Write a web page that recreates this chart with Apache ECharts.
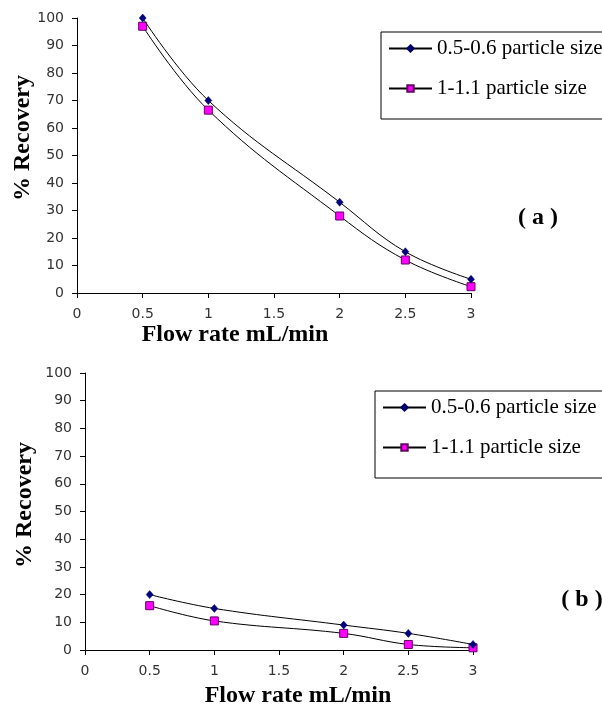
<!DOCTYPE html>
<html>
<head>
<meta charset="utf-8">
<script src="https://cdn.jsdelivr.net/npm/echarts@6/dist/echarts.min.js"></script>
<style>html,body{margin:0;padding:0;background:#fff;}#c{width:602px;height:710px;}</style>
</head>
<body>
<div id="c"></div>
<script>
const flowRates = [0.5, 1, 2, 2.5, 3];
const seriesNames = ['0.5-0.6 particle size', '1-1.1 particle size'];
const aSmall = [100, 70, 33, 15, 5];
const aLarge = [97, 66.5, 28, 12, 2.3];
const bSmall = [20, 15, 9, 6, 2];
const bLarge = [16, 10.5, 6, 2, 0.8];
const xTitle = 'Flow rate mL/min';
const yTitle = '% Recovery';
const panelLabels = ['( a )', '( b )'];

const pair = (xs, ys) => xs.map((x, i) => [x, ys[i]]);
const serifBold = {fontFamily: 'Liberation Serif', fontWeight: 'bold', fontSize: 24, fill: '#000'};

function xAx(gi) {
  return {
    type: 'value', gridIndex: gi, min: 0, max: 3, interval: 0.5,
    axisLine: {show: true, lineStyle: {color: '#000', width: 1}},
    axisTick: {show: true, length: 5, lineStyle: {color: '#000'}},
    axisLabel: {fontFamily: 'DejaVu Sans', fontSize: 14, color: '#333', margin: 14},
    splitLine: {show: false}
  };
}
function yAx(gi) {
  return {
    type: 'value', gridIndex: gi, min: 0, max: 100, interval: 10,
    axisLine: {show: true, lineStyle: {color: '#000', width: 1}},
    axisTick: {show: true, length: 5, lineStyle: {color: '#000'}},
    axisLabel: {fontFamily: 'DejaVu Sans', fontSize: 14, color: '#333', margin: 13},
    splitLine: {show: false}
  };
}
function ser(name, gi, data, isSmall) {
  return {
    name: name, type: 'line', xAxisIndex: gi, yAxisIndex: gi,
    data: data, smooth: 0.4,
    symbol: isSmall ? 'diamond' : 'rect',
    symbolSize: isSmall ? [7, 8] : 8,
    lineStyle: {color: '#000', width: 1},
    itemStyle: isSmall ? {color: '#000080', borderColor: '#000060', borderWidth: 0.5}
                       : {color: '#FF00FF', borderColor: '#660066', borderWidth: 1},
    emphasis: {disabled: true},
    z: isSmall ? 3 : 2
  };
}
function leg(left, top) {
  return {
    orient: 'vertical', left: left, top: top,
    data: seriesNames,
    itemWidth: 43, itemHeight: 8, itemGap: 19,
    padding: [6, 30, 20, 7],
    borderColor: '#000', borderWidth: 1,
    textStyle: {fontFamily: 'Liberation Serif', fontSize: 21, color: '#000'},
    selectedMode: false
  };
}

const chart = echarts.init(document.getElementById('c'));
chart.setOption({
  backgroundColor: '#fff',
  animation: false,
  grid: [
    {left: 77, top: 18, width: 394, height: 275},
    {left: 85, top: 373, width: 388, height: 277}
  ],
  xAxis: [xAx(0), xAx(1)],
  yAxis: [yAx(0), yAx(1)],
  legend: [leg(381, 32), leg(375, 391)],
  series: [
    ser(seriesNames[0], 0, pair(flowRates, aSmall), true),
    ser(seriesNames[1], 0, pair(flowRates, aLarge), false),
    ser(seriesNames[0], 1, pair(flowRates, bSmall), true),
    ser(seriesNames[1], 1, pair(flowRates, bLarge), false)
  ],
  graphic: [
    {type: 'text', x: 235, y: 335, style: Object.assign({text: xTitle, textAlign: 'center', textVerticalAlign: 'middle'}, serifBold)},
    {type: 'text', x: 298, y: 696, style: Object.assign({text: xTitle, textAlign: 'center', textVerticalAlign: 'middle'}, serifBold)},
    {type: 'text', x: 23, y: 138, rotation: Math.PI / 2, style: Object.assign({text: yTitle, textAlign: 'center', textVerticalAlign: 'middle'}, serifBold)},
    {type: 'text', x: 25, y: 505, rotation: Math.PI / 2, style: Object.assign({text: yTitle, textAlign: 'center', textVerticalAlign: 'middle'}, serifBold)},
    {type: 'text', x: 538, y: 218, style: Object.assign({text: panelLabels[0], textAlign: 'center', textVerticalAlign: 'middle'}, serifBold)},
    {type: 'text', x: 582, y: 600, style: Object.assign({text: panelLabels[1], textAlign: 'center', textVerticalAlign: 'middle'}, serifBold)}
  ]
});
</script>
</body>
</html>
